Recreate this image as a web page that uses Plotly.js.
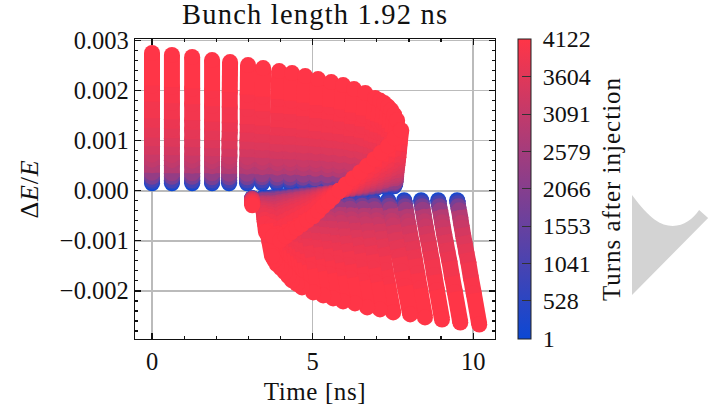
<!DOCTYPE html>
<html><head><meta charset="utf-8">
<script src="https://cdn.plot.ly/plotly-3.0.1.min.js"></script>
<style>html,body{margin:0;padding:0;background:#fff}#c{width:723px;height:410px}
.gtitle{letter-spacing:1.2px}.xtitle{letter-spacing:.6px}.ytitle{letter-spacing:.8px}.cbtitle,.cbtitle text{letter-spacing:1px}</style>
</head><body><div id="c"></div>
<script>
// turn number of each sampled snapshot
const turns=[1,500,1000,1800,2300,2850,3050,3200,3400,3550,3680,3800,3920,4030,4122];
const cbTicks=[1,528,1041,1553,2066,2579,3091,3604,4122];
// one row per particle, one column per snapshot. time in ns, dE/E in units of 1e-5
const upperT=[
[0,0,0,0,0,0,0,0,0,0,0,0,0,0,0],
[.62,.62,.62,.62,.62,.62,.62,.62,.62,.62,.62,.62,.62,.62,.62],
[1.25,1.25,1.25,1.25,1.25,1.25,1.25,1.25,1.25,1.25,1.25,1.25,1.25,1.25,1.25],
[1.87,1.87,1.87,1.87,1.87,1.87,1.87,1.87,1.87,1.87,1.87,1.87,1.87,1.87,1.87],
[2.40,2.40,2.40,2.40,2.40,2.40,2.40,2.41,2.41,2.41,2.42,2.42,2.42,2.42,2.43],
[2.96,2.96,2.96,2.96,2.96,2.96,2.96,2.97,2.97,2.97,2.98,2.98,2.98,2.98,2.99],
[3.43,3.43,3.43,3.43,3.43,3.43,3.43,3.44,3.44,3.44,3.44,3.45,3.45,3.45,3.46],
[3.89,3.89,3.89,3.89,3.90,3.90,3.90,3.91,3.91,3.91,3.92,3.93,3.93,3.94,3.96],
[4.30,4.30,4.30,4.30,4.30,4.31,4.31,4.31,4.31,4.32,4.32,4.33,4.34,4.35,4.36],
[4.70,4.70,4.70,4.70,4.71,4.71,4.71,4.72,4.72,4.72,4.73,4.74,4.74,4.75,4.77],
[5.08,5.08,5.08,5.08,5.09,5.09,5.10,5.10,5.10,5.11,5.12,5.13,5.14,5.15,5.17],
[5.45,5.45,5.45,5.46,5.46,5.47,5.47,5.48,5.49,5.50,5.51,5.52,5.53,5.55,5.58],
[5.79,5.79,5.79,5.80,5.80,5.81,5.82,5.83,5.84,5.85,5.86,5.87,5.89,5.91,5.95],
[6.14,6.14,6.14,6.15,6.15,6.16,6.16,6.17,6.18,6.19,6.20,6.22,6.23,6.25,6.29],
[6.42,6.42,6.43,6.43,6.44,6.45,6.46,6.47,6.48,6.50,6.51,6.53,6.56,6.59,6.64],
[6.73,6.73,6.74,6.74,6.75,6.76,6.77,6.78,6.79,6.81,6.82,6.84,6.87,6.90,6.95],
[6.85,6.85,6.86,6.86,6.87,6.89,6.90,6.91,6.92,6.94,6.96,6.98,7.01,7.04,7.10],
[7.01,7.01,7.02,7.02,7.03,7.04,7.05,7.06,7.07,7.09,7.10,7.12,7.15,7.18,7.23],
[7.13,7.13,7.14,7.14,7.15,7.16,7.17,7.18,7.20,7.21,7.23,7.24,7.27,7.30,7.35],
[7.23,7.23,7.24,7.24,7.25,7.26,7.27,7.28,7.29,7.31,7.32,7.34,7.37,7.40,7.45],
[7.32,7.32,7.33,7.33,7.34,7.35,7.36,7.37,7.38,7.40,7.41,7.43,7.46,7.49,7.54],
[7.41,7.41,7.42,7.42,7.43,7.44,7.45,7.46,7.47,7.49,7.50,7.52,7.55,7.58,7.63],
[7.54,7.54,7.54,7.55,7.56,7.57,7.57,7.58,7.60,7.61,7.62,7.64,7.66,7.68,7.73]];
const upperE=[
[15,18,22,28,36,51,62,72,89,106,126,145,178,210,275],
[15,18,21,28,35,51,61,71,88,105,124,143,175,207,271],
[15,18,21,28,35,50,60,70,87,103,122,141,173,204,267],
[15,17,21,27,35,49,59,69,85,101,120,138,169,200,261],
[15,17,21,27,34,49,59,68,84,100,118,136,167,197,257],
[15,17,21,27,34,48,58,67,83,98,116,133,163,192,251],
[15,17,21,27,33,47,57,66,81,96,113,130,159,188,245],
[15,17,21,26,33,46,55,64,79,93,110,127,155,183,239],
[15,17,21,26,33,46,55,63,78,92,109,125,153,180,235],
[15,17,20,26,32,45,54,62,76,90,106,122,149,176,229],
[15,17,20,25,32,44,53,61,75,88,104,119,145,171,223],
[15,17,20,25,31,43,51,59,73,86,101,116,142,167,217],
[15,17,20,25,31,42,50,58,71,84,99,113,138,162,211],
[15,17,20,24,30,41,49,56,69,81,95,109,133,156,203],
[15,17,20,24,29,40,48,55,67,78,92,105,128,150,195],
[13,15,17,22,27,37,44,51,62,73,86,99,121,142,185],
[13,15,17,21,26,36,43,50,60,71,83,96,117,138,180],
[13,15,17,21,26,36,43,49,60,70,82,94,115,135,175],
[13,15,17,21,25,35,41,48,58,68,79,91,111,131,168],
[13,14,17,20,25,34,40,46,56,65,76,87,106,124,161],
[12,13,16,19,23,31,37,43,52,61,71,82,99,116,152],
[11,12,14,18,21,29,35,40,49,57,67,76,93,109,141],
[9,10,12,15,18,25,30,34,41,48,57,65,79,93,121]];
const lowerT=[
[9.50,9.51,9.52,9.53,9.56,9.60,9.62,9.65,9.69,9.74,9.79,9.85,9.93,10.02,10.19],
[8.91,8.92,8.93,8.94,8.97,9.01,9.03,9.06,9.10,9.15,9.20,9.26,9.34,9.43,9.60],
[8.38,8.39,8.40,8.41,8.43,8.47,8.49,8.52,8.56,8.61,8.66,8.71,8.79,8.87,9.03],
[7.85,7.86,7.87,7.88,7.90,7.94,7.96,7.99,8.03,8.08,8.13,8.18,8.26,8.34,8.50],
[7.35,7.36,7.37,7.38,7.41,7.45,7.47,7.50,7.54,7.59,7.64,7.70,7.78,7.87,8.04],
[6.88,6.89,6.90,6.91,6.93,6.97,6.99,7.02,7.06,7.10,7.15,7.20,7.27,7.35,7.51],
[6.51,6.52,6.52,6.54,6.56,6.59,6.61,6.64,6.68,6.72,6.76,6.81,6.88,6.95,7.10],
[6.11,6.12,6.12,6.14,6.16,6.19,6.21,6.24,6.28,6.32,6.36,6.41,6.48,6.55,6.70],
[5.76,5.77,5.77,5.79,5.80,5.84,5.86,5.88,5.92,5.96,6.00,6.04,6.11,6.18,6.32],
[5.39,5.40,5.40,5.42,5.43,5.47,5.49,5.51,5.55,5.59,5.63,5.67,5.74,5.81,5.95],
[5.11,5.12,5.12,5.14,5.15,5.18,5.20,5.23,5.26,5.30,5.34,5.38,5.44,5.51,5.64],
[4.80,4.81,4.81,4.83,4.84,4.87,4.89,4.92,4.95,4.99,5.03,5.07,5.13,5.20,5.33],
[4.52,4.53,4.53,4.55,4.56,4.59,4.61,4.63,4.67,4.70,4.73,4.77,4.83,4.90,5.02],
[4.21,4.21,4.22,4.23,4.25,4.27,4.29,4.31,4.34,4.37,4.40,4.44,4.50,4.56,4.67],
[4.07,4.07,4.08,4.09,4.11,4.13,4.15,4.17,4.20,4.23,4.26,4.30,4.35,4.41,4.51],
[3.93,3.93,3.94,3.95,3.96,3.99,4.00,4.02,4.05,4.08,4.11,4.15,4.20,4.25,4.36],
[3.83,3.83,3.84,3.85,3.86,3.89,3.91,3.92,3.95,3.98,4.01,4.05,4.10,4.15,4.25],
[3.74,3.74,3.75,3.76,3.77,3.80,3.81,3.83,3.85,3.88,3.91,3.94,3.99,4.04,4.14],
[3.65,3.65,3.66,3.67,3.68,3.70,3.71,3.73,3.75,3.78,3.81,3.84,3.88,3.93,4.02],
[3.55,3.55,3.56,3.57,3.58,3.60,3.61,3.62,3.65,3.67,3.70,3.72,3.77,3.81,3.89],
[3.49,3.49,3.50,3.51,3.51,3.53,3.54,3.55,3.58,3.60,3.63,3.65,3.69,3.73,3.81],
[3.43,3.43,3.44,3.45,3.45,3.47,3.48,3.50,3.52,3.54,3.56,3.59,3.62,3.66,3.74]];
const lowerE=[
[-19,-21,-25,-31,-39,-54,-64,-74,-90,-106,-124,-143,-174,-205,-267],
[-19,-21,-25,-31,-39,-53,-63,-73,-88,-104,-122,-141,-171,-202,-263],
[-19,-21,-25,-31,-38,-52,-61,-71,-86,-102,-120,-138,-168,-198,-257],
[-19,-21,-25,-31,-38,-52,-61,-70,-85,-101,-118,-136,-165,-195,-253],
[-19,-21,-25,-30,-37,-51,-60,-69,-84,-99,-116,-133,-161,-190,-247],
[-19,-21,-25,-30,-37,-50,-59,-68,-82,-97,-114,-131,-159,-187,-243],
[-19,-21,-24,-30,-36,-50,-58,-67,-81,-95,-111,-128,-155,-183,-237],
[-19,-21,-24,-30,-36,-49,-57,-66,-80,-94,-110,-126,-153,-180,-233],
[-19,-21,-24,-29,-35,-48,-56,-64,-77,-91,-106,-122,-148,-174,-225],
[-19,-21,-24,-29,-35,-47,-55,-63,-76,-90,-105,-120,-145,-171,-221],
[-19,-21,-24,-29,-35,-46,-54,-62,-75,-88,-102,-117,-141,-166,-215],
[-19,-21,-24,-29,-34,-46,-53,-61,-73,-86,-100,-114,-138,-162,-209],
[-19,-21,-24,-28,-34,-45,-52,-59,-71,-83,-97,-111,-134,-157,-203],
[-19,-21,-23,-28,-33,-43,-50,-57,-68,-80,-93,-106,-128,-150,-193],
[-19,-21,-23,-27,-33,-42,-49,-56,-67,-78,-90,-103,-124,-145,-186],
[-19,-21,-23,-27,-32,-41,-48,-54,-65,-75,-87,-99,-119,-139,-179],
[-19,-21,-23,-27,-32,-40,-47,-53,-63,-72,-83,-95,-114,-133,-171],
[-19,-20,-23,-26,-31,-39,-45,-51,-60,-69,-80,-91,-109,-127,-163],
[-19,-20,-22,-26,-30,-38,-44,-49,-58,-67,-77,-87,-104,-121,-155],
[-19,-20,-22,-25,-29,-37,-42,-47,-56,-64,-74,-83,-99,-115,-147],
[-19,-20,-22,-25,-29,-36,-41,-46,-54,-61,-70,-79,-94,-109,-139],
[-19,-20,-22,-25,-28,-35,-39,-44,-51,-58,-66,-75,-89,-103,-131]];
const coreT=[
[3.12,3.12,3.12,3.12,3.12,3.12,3.12,3.12,3.12,3.12,3.12,3.12,3.12,3.12,3.12],
[3.43,3.43,3.43,3.44,3.44,3.45,3.45,3.46,3.47,3.47,3.48,3.49,3.50,3.52,3.55],
[3.58,3.58,3.59,3.59,3.60,3.61,3.62,3.63,3.64,3.65,3.67,3.68,3.70,3.72,3.77],
[3.74,3.74,3.75,3.75,3.76,3.78,3.79,3.80,3.81,3.83,3.85,3.87,3.90,3.93,3.99],
[3.92,3.92,3.93,3.93,3.94,3.96,3.97,3.98,3.99,4.01,4.03,4.05,4.08,4.10,4.16],
[4.11,4.11,4.12,4.12,4.13,4.14,4.15,4.16,4.17,4.19,4.20,4.22,4.25,4.28,4.33],
[4.30,4.30,4.30,4.31,4.31,4.33,4.34,4.34,4.36,4.37,4.39,4.40,4.43,4.45,4.50],
[4.49,4.49,4.49,4.50,4.50,4.52,4.52,4.53,4.54,4.55,4.56,4.58,4.60,4.63,4.67],
[4.67,4.67,4.67,4.68,4.68,4.70,4.70,4.71,4.72,4.73,4.74,4.76,4.78,4.80,4.84],
[4.86,4.86,4.86,4.87,4.87,4.88,4.89,4.90,4.91,4.92,4.93,4.94,4.96,4.98,5.02],
[5.05,5.05,5.05,5.05,5.05,5.06,5.07,5.07,5.08,5.09,5.10,5.11,5.13,5.15,5.18],
[5.23,5.23,5.23,5.24,5.24,5.24,5.25,5.25,5.26,5.27,5.27,5.28,5.30,5.31,5.33],
[5.42,5.42,5.42,5.42,5.42,5.43,5.43,5.44,5.44,5.45,5.45,5.46,5.47,5.47,5.49],
[5.61,5.61,5.61,5.61,5.61,5.62,5.62,5.62,5.62,5.62,5.63,5.63,5.63,5.63,5.64],
[5.81,5.81,5.81,5.81,5.81,5.81,5.82,5.82,5.82,5.82,5.82,5.83,5.83,5.83,5.84],
[6.01,6.01,6.01,6.01,6.01,6.01,6.01,6.02,6.02,6.02,6.02,6.02,6.03,6.03,6.04],
[6.21,6.21,6.21,6.21,6.21,6.22,6.22,6.22,6.23,6.23,6.24,6.24,6.25,6.25,6.26],
[6.42,6.42,6.42,6.42,6.42,6.43,6.43,6.43,6.43,6.44,6.44,6.45,6.46,6.47,6.48],
[6.62,6.62,6.62,6.62,6.63,6.63,6.63,6.64,6.64,6.65,6.66,6.66,6.67,6.69,6.70],
[6.82,6.82,6.82,6.83,6.83,6.83,6.84,6.84,6.85,6.86,6.86,6.87,6.88,6.90,6.92],
[7.02,7.02,7.03,7.03,7.03,7.04,7.04,7.05,7.06,7.06,7.07,7.08,7.10,7.11,7.13],
[7.23,7.23,7.23,7.24,7.24,7.25,7.25,7.26,7.26,7.27,7.28,7.29,7.30,7.32,7.35],
[7.40,7.40,7.40,7.41,7.41,7.42,7.43,7.43,7.44,7.45,7.47,7.48,7.50,7.51,7.55],
[7.57,7.57,7.57,7.58,7.59,7.60,7.60,7.61,7.62,7.64,7.65,7.67,7.69,7.71,7.76]];
const coreE=[
[-15,-15,-15,-16,-16,-17,-17,-18,-19,-20,-21,-22,-24,-26,-29],
[-15,-16,-17,-18,-20,-25,-27,-30,-35,-39,-44,-49,-58,-66,-83],
[-14,-15,-16,-18,-20,-25,-28,-31,-37,-41,-47,-52,-62,-72,-91],
[-13,-14,-15,-17,-20,-25,-28,-32,-37,-43,-49,-56,-67,-78,-99],
[-12,-13,-14,-16,-18,-23,-26,-29,-35,-39,-45,-51,-62,-71,-91],
[-11,-12,-13,-15,-17,-21,-24,-27,-31,-36,-41,-47,-56,-65,-83],
[-10,-11,-12,-13,-15,-19,-22,-24,-29,-32,-37,-42,-51,-59,-75],
[-9,-10,-10,-12,-14,-17,-19,-22,-25,-29,-33,-38,-45,-53,-67],
[-8,-8,-9,-10,-12,-15,-17,-19,-22,-25,-29,-33,-40,-46,-59],
[-7,-7,-8,-9,-11,-13,-15,-17,-19,-22,-25,-29,-34,-40,-51],
[-6,-6,-7,-8,-9,-11,-13,-14,-16,-18,-21,-23,-28,-32,-41],
[-5,-5,-6,-6,-7,-9,-10,-11,-12,-14,-16,-18,-21,-25,-31],
[-4,-4,-5,-5,-5,-7,-7,-8,-9,-10,-12,-13,-15,-18,-22],
[-3,-3,-3,-4,-4,-4,-5,-5,-6,-7,-7,-8,-9,-11,-13],
[-1,-1,-1,-1,-1,-1,-1,-1,-1,-1,0,0,0,0,0],
[1,1,1,2,2,3,3,4,4,5,6,7,8,10,13],
[2,2,2,3,4,5,6,7,8,10,12,13,16,19,25],
[3,3,4,5,6,8,9,10,12,15,17,20,25,29,37],
[4,4,5,6,8,10,12,14,17,20,24,27,33,39,50],
[5,6,6,8,10,13,15,18,21,25,29,34,41,49,63],
[7,8,8,10,12,16,19,22,26,31,36,41,51,59,76],
[9,10,11,13,15,20,23,27,32,37,43,49,59,69,89],
[11,12,13,15,18,24,28,32,38,44,51,58,70,81,105],
[13,14,16,18,22,28,32,37,44,51,59,67,80,94,121]];

const blue=[12,72,212], red=[255,53,71];
const scale=[[0,`rgb(${blue})`],[1,`rgb(${red})`]];
function colorOf(t){const f=(t-1)/4121;return 'rgb('+blue.map((b,i)=>Math.round(b+(red[i]-b)*f)).join(',')+')';}
const T=[...upperT,...lowerT,...coreT], E=[...upperE,...lowerE,...coreE];
const dot=16, traces=[];
turns.forEach((t,k)=>{
  const c=colorOf(t);
  if(k>0){
    const lx=[],ly=[];
    T.forEach((row,i)=>{lx.push(row[k-1],row[k],null);ly.push(E[i][k-1]*1e-5,E[i][k]*1e-5,null);});
    traces.push({type:'scatter',mode:'lines',x:lx,y:ly,line:{color:c,width:dot,simplify:false},hoverinfo:'skip',showlegend:false});
  }
  traces.push({type:'scatter',mode:'markers',x:T.map(r=>r[k]),y:E.map(r=>r[k]*1e-5),
    marker:{size:dot,color:T.map(()=>t),cmin:1,cmax:4122,colorscale:scale,line:{width:0},showscale:k===0,
      colorbar:k===0?{x:1.064,xanchor:'left',xpad:0,y:0,yanchor:'bottom',ypad:0,len:1,lenmode:'fraction',thickness:13,thicknessmode:'pixels',
        outlinewidth:1,outlinecolor:'#222',tickmode:'array',tickvals:cbTicks,ticktext:cbTicks.map(v=>'\u00a0'+v+'\u2009'),ticks:'inside',ticklen:9,tickwidth:1,tickcolor:'#333',
        tickfont:{family:'Liberation Serif',size:24,color:'#111'},
        title:{text:'Turns after injection',side:'right',font:{family:'Liberation Serif',size:25,color:'#111'}}}:undefined},
    hoverinfo:'skip',showlegend:false});
});
const font={family:'Liberation Serif',size:24.5,color:'#111'};
const axis={showline:true,mirror:'ticks',linecolor:'#111',linewidth:1.3,ticks:'inside',tickcolor:'#111',tickwidth:1.3,ticklen:6,
  showgrid:true,gridcolor:'#bbbbbb',gridwidth:1.5,zeroline:false,tickfont:font};
const layout={width:723,height:410,paper_bgcolor:'#fff',plot_bgcolor:'#fff',showlegend:false,font,
  margin:{l:135,r:228,t:39,b:71,pad:0},
  title:{text:'Bunch length 1.92 ns',font:{family:'Liberation Serif',size:28.5,color:'#111'},x:0.436,xanchor:'center',y:0.965,yanchor:'middle'},
  xaxis:{...axis,range:[-0.53,10.68],tickmode:'linear',tick0:0,dtick:5,minor:{dtick:1,ticks:'inside',ticklen:3,tickcolor:'#111',tickwidth:1.2,showgrid:false},
    title:{text:'Time [ns]',font:{family:'Liberation Serif',size:25,color:'#111'},standoff:8}},
  yaxis:{...axis,range:[-0.00296,0.00303],tickmode:'linear',tick0:0,dtick:0.001,tickformat:'.3f',minor:{dtick:0.0002,ticks:'inside',ticklen:3,tickcolor:'#111',tickwidth:1.2,showgrid:false},
    title:{text:'Δ<i>E</i>/<i>E</i>',font:{family:'Liberation Serif',size:26,color:'#111'},standoff:13}},
  shapes:[{type:'path',xref:'paper',yref:'paper',line:{width:0},fillcolor:'#d3d3d3',
    path:'M 1.3806 0.48 C 1.43 0.40 1.46 0.377 1.494 0.377 C 1.525 0.377 1.55 0.40 1.567 0.43 L 1.592 0.403 L 1.3806 0.147 Z'}]
};
Plotly.newPlot('c',traces,layout,{displayModeBar:false,staticPlot:true});
</script></body></html>
